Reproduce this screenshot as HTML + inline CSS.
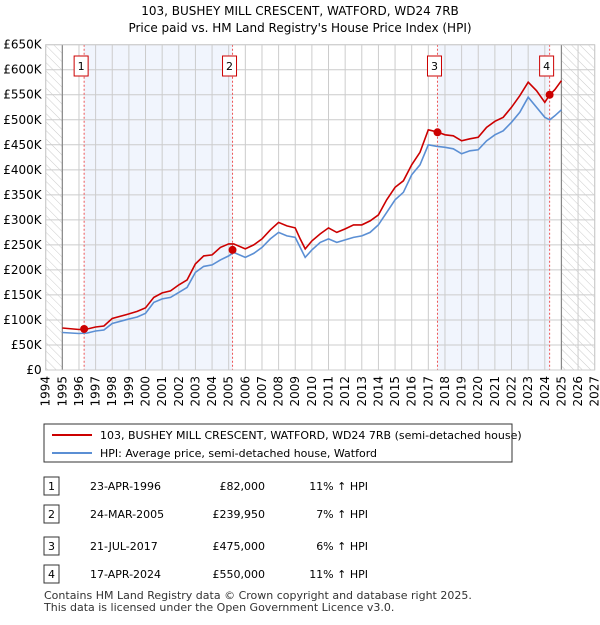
<!DOCTYPE html>
<html><head><meta charset="utf-8"><style>
body{margin:0;background:#fff;font-family:"Liberation Sans","DejaVu Sans",sans-serif;}
svg text{font-family:"DejaVu Sans","Liberation Sans",sans-serif;}
</style></head><body>
<svg id="chart" width="600" height="620" xmlns="http://www.w3.org/2000/svg">
<defs><pattern id="hatch" width="6" height="6" patternUnits="userSpaceOnUse" patternTransform="rotate(-45)"><line x1="0" y1="0" x2="0" y2="6" stroke="#ccc" stroke-width="1"/></pattern></defs>
<text x="300" y="15" text-anchor="middle" font-size="12">103, BUSHEY MILL CRESCENT, WATFORD, WD24 7RB</text>
<text x="300" y="32" text-anchor="middle" font-size="12">Price paid vs. HM Land Registry's House Price Index (HPI)</text>
<g id="plot"></g>
<g>
<rect x="44" y="424" width="468" height="38" fill="#fff" stroke="#333"/>
<line x1="52" y1="435" x2="92" y2="435" stroke="#cc0000" stroke-width="2"/>
<text x="100" y="439" font-size="11">103, BUSHEY MILL CRESCENT, WATFORD, WD24 7RB (semi-detached house)</text>
<line x1="52" y1="453" x2="92" y2="453" stroke="#5b8fd4" stroke-width="2"/>
<text x="100" y="457" font-size="11">HPI: Average price, semi-detached house, Watford</text>
</g>
<g id="table" font-size="11"></g>
<text x="44" y="599" font-size="11" fill="#333">Contains HM Land Registry data © Crown copyright and database right 2025.</text>
<text x="44" y="611" font-size="11" fill="#333">This data is licensed under the Open Government Licence v3.0.</text>
</svg>
<script>
const years=[1995,1996,1996.5,1997,1997.5,1998,1999,1999.5,2000,2000.5,2001,2001.5,2002,2002.5,2003,2003.5,2004,2004.5,2005,2005.3,2006,2006.5,2007,2007.5,2008,2008.5,2009,2009.3,2009.6,2010,2010.5,2011,2011.5,2012,2012.5,2013,2013.5,2014,2014.5,2015,2015.5,2016,2016.5,2017,2017.5,2018,2018.5,2019,2019.5,2020,2020.5,2021,2021.5,2022,2022.5,2023,2023.5,2024,2024.3,2024.6,2025];
const hpi=[75,73,74,78,80,93,102,106,113,135,142,145,155,165,195,207,210,220,228,235,225,233,245,262,275,268,265,245,225,240,255,262,255,260,265,268,275,290,315,340,355,390,410,450,447,445,442,432,438,440,458,470,478,495,515,545,525,505,500,508,520];
const price=[84,81,82,86,88,103,112,117,124,145,154,158,170,180,212,228,230,245,252,252,242,250,262,280,295,288,284,262,242,258,272,284,275,282,290,290,298,310,340,365,378,410,435,480,476,470,468,458,462,465,485,497,505,525,548,575,558,535,550,560,578];
const saleYears=[1996.31,2005.23,2017.55,2024.29];
const saleValues=[82,239.95,475,550];
const saleLabels=["1","2","3","4"];
const saleDates=["23-APR-1996","24-MAR-2005","21-JUL-2017","17-APR-2024"];
const salePrices=["£82,000","£239,950","£475,000","£550,000"];
const salePct=["11% ↑ HPI","7% ↑ HPI","6% ↑ HPI","11% ↑ HPI"];
const yTicks=[0,50,100,150,200,250,300,350,400,450,500,550,600,650];
const xTicks=[];for(let y=1994;y<=2027;y++)xTicks.push(y);

const NS="http://www.w3.org/2000/svg";
const X0=45.7,X1=594.7,Y0=370,Y1=44.7;
const sx=v=>X0+(v-1994)/33*(X1-X0);
const sy=v=>Y0-v/650*(Y0-Y1);
const plot=document.getElementById('plot');
function mk(t,a,p){const e=document.createElementNS(NS,t);for(const k in a)e.setAttribute(k,a[k]);(p||plot).appendChild(e);return e;}

let bg=mk('rect',{x:X0,y:Y1,width:X1-X0,height:Y0-Y1,fill:'#fff'});


for(let i=0;i<saleYears.length;i+=2){
 let r=mk('rect',{x:sx(saleYears[i]),y:Y1,width:sx(saleYears[i+1])-sx(saleYears[i]),height:Y0-Y1,fill:'#eef3fc',opacity:0.8});
 
 
}
let h1=mk('rect',{x:X0,y:Y1,width:sx(1995)-X0,height:Y0-Y1,fill:'url(#hatch)'});


let h2=mk('rect',{x:sx(2025),y:Y1,width:X1-sx(2025),height:Y0-Y1,fill:'url(#hatch)'});


xTicks.forEach(y=>{
 let l=mk('line',{x1:sx(y),x2:sx(y),y1:Y1,y2:Y0,stroke:'#ccc','stroke-width':1});
 
 
 let t=mk('text',{x:0,y:0,'font-size':12,'text-anchor':'end',transform:`translate(${sx(y)+4},${Y0+6}) rotate(-90)`});
 t.textContent=y;
 
 
});
yTicks.forEach(v=>{
 let l=mk('line',{x1:X0,x2:X1,y1:sy(v),y2:sy(v),stroke:'#ccc','stroke-width':1});
 
 
 let t=mk('text',{x:X0-4,y:sy(v)+4,'font-size':12,'text-anchor':'end'});
 t.textContent=v===0?'£0':'£'+v+'K';
 
 
});
[1995,2025].forEach(y=>{let l=mk('line',{x1:sx(y),x2:sx(y),y1:Y1,y2:Y0,stroke:'#888','stroke-width':1.2});
 
 });
saleYears.forEach((y,i)=>{
 let l=mk('line',{x1:sx(y),x2:sx(y),y1:Y1,y2:Y0,stroke:'#e55','stroke-width':1,'stroke-dasharray':'2,2'});
 
 
 let r=mk('rect',{x:sx(y)-10,y:56,width:14,height:20,fill:'#fff',stroke:'#cc0000'});
 
 
 let t=mk('text',{x:sx(y)-3,y:70,'font-size':11,'text-anchor':'middle'});
 t.textContent=saleLabels[i];
 
 
});
const path=arr=>arr.map((v,i)=>(i?'L':'M')+sx(years[i]).toFixed(1)+','+sy(v).toFixed(1)).join('');
let hp=mk('path',{d:path(hpi),fill:'none',stroke:'#5b8fd4','stroke-width':1.6});


let pp=mk('path',{d:path(price),fill:'none',stroke:'#cc0000','stroke-width':1.6});


saleYears.forEach((y,i)=>{let c=mk('circle',{cx:sx(y),cy:sy(saleValues[i]),r:4,fill:'#cc0000'});
 
 });
let fr=mk('rect',{x:X0,y:Y1,width:X1-X0,height:Y0-Y1,fill:'none',stroke:'#ccc'});



const tb=document.getElementById('table');
const rowY=[486,514,546,574];
saleLabels.forEach((s,i)=>{
 const y=rowY[i];
 let r=mk('rect',{x:44,y:y-9,width:15,height:18,fill:'#fff',stroke:'#333'},tb);
 
 
 let n=mk('text',{x:51.5,y:y+4,'text-anchor':'middle'},tb);n.textContent=s;
 
 
 let d=mk('text',{x:90,y:y+4},tb);d.textContent=saleDates[i];
 
 
 let p=mk('text',{x:265,y:y+4,'text-anchor':'end'},tb);p.textContent=salePrices[i];
 
 
 let c=mk('text',{x:368,y:y+4,'text-anchor':'end'},tb);c.textContent=salePct[i];
 
 
});
</script>
</body></html>
